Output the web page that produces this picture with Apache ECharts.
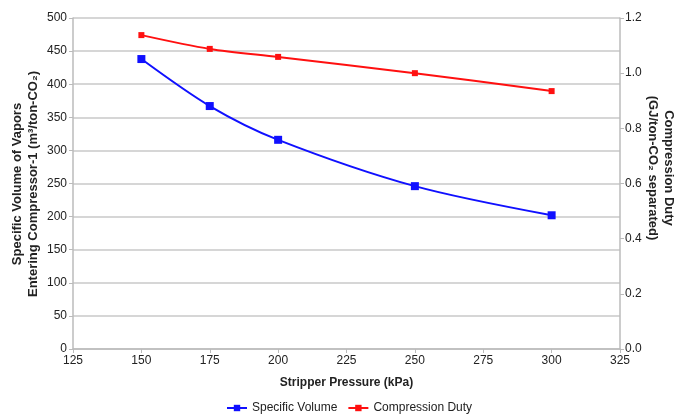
<!DOCTYPE html>
<html>
<head>
<meta charset="utf-8">
<script src="https://cdn.jsdelivr.net/npm/echarts@6/dist/echarts.min.js"></script>
<style>html,body{margin:0;padding:0;background:#fff}#c{width:675px;height:414px}</style>
</head>
<body>
<div id="c"></div>
<script>
var pressure = [150, 175, 200, 250, 300];
var specificVolume = [438, 367, 316, 246, 202];
var compressionDuty = [1.138, 1.088, 1.059, 1.0, 0.935];
var leftTicks = [0, 50, 100, 150, 200, 250, 300, 350, 400, 450, 500];
var rightTicks = [0.0, 0.2, 0.4, 0.6, 0.8, 1.0, 1.2];
var xTicks = [125, 150, 175, 200, 225, 250, 275, 300, 325];
var leftTitle = 'Specific Volume of Vapors\nEntering Compressor-1 (m³/ton-CO₂)';
var rightTitle = 'Compression Duty\n(GJ/ton-CO₂ separated)';

var font = '"Liberation Sans", Arial, sans-serif';
var chart = echarts.init(document.getElementById('c'));
chart.setOption({
  animation: false,
  textStyle: {fontFamily: font},
  grid: {left: 73, right: 55, top: 18, bottom: 65, outerBoundsMode: 'none', containLabel: false},
  legend: {
    top: 397, left: 221, itemWidth: 20, itemHeight: 8, itemGap: 10,
    textStyle: {fontSize: 12, color: '#222', fontFamily: font},
    data: ['Specific Volume', 'Compression Duty']
  },
  graphic: [{
    type: 'text', x: 25, y: 184, rotation: Math.PI / 2,
    style: {text: leftTitle, font: 'bold 13px ' + font, fill: '#222',
            textAlign: 'center', textVerticalAlign: 'middle', lineHeight: 16}
  }, {
    type: 'text', x: 661, y: 168, rotation: -Math.PI / 2,
    style: {text: rightTitle, font: 'bold 13px ' + font, fill: '#222',
            textAlign: 'center', textVerticalAlign: 'middle', lineHeight: 16}
  }],
  xAxis: {
    type: 'value', min: xTicks[0], max: xTicks[xTicks.length - 1], interval: 25,
    name: 'Stripper Pressure (kPa)', nameLocation: 'middle', nameGap: 28,
    nameTextStyle: {fontWeight: 'bold', fontSize: 12, color: '#222', fontFamily: font},
    axisLine: {lineStyle: {color: '#bbb', width: 1.5}},
    axisTick: {show: true, length: 4, lineStyle: {color: '#bbb'}},
    axisLabel: {fontSize: 12, color: '#222', margin: 6, fontFamily: font},
    splitLine: {show: false}
  },
  yAxis: [{
    type: 'value', min: leftTicks[0], max: leftTicks[leftTicks.length - 1], interval: 50,
    axisLine: {show: true, lineStyle: {color: '#bbb', width: 1.5}},
    axisTick: {show: true, length: 4, lineStyle: {color: '#bbb'}},
    axisLabel: {fontSize: 12, color: '#222', margin: 6, fontFamily: font},
    splitLine: {show: true, lineStyle: {color: '#c8c8c8', width: 1.5}}
  }, {
    type: 'value', min: rightTicks[0], max: rightTicks[rightTicks.length - 1], interval: 0.2,
    position: 'right',
    axisLine: {show: true, lineStyle: {color: '#bbb', width: 1.5}},
    axisTick: {show: true, length: 4, lineStyle: {color: '#bbb'}},
    axisLabel: {fontSize: 12, color: '#222', margin: 5, fontFamily: font, formatter: function (v) { return v.toFixed(1); }},
    splitLine: {show: false}
  }],
  series: [{
    name: 'Specific Volume', type: 'line', yAxisIndex: 0, smooth: 0.3,
    data: pressure.map(function (p, i) { return [p, specificVolume[i]]; }),
    symbol: 'rect', symbolSize: 8,
    lineStyle: {color: '#1010ff', width: 2},
    itemStyle: {color: '#1010ff'}
  }, {
    name: 'Compression Duty', type: 'line', yAxisIndex: 1, smooth: 0.3,
    data: pressure.map(function (p, i) { return [p, compressionDuty[i]]; }),
    symbol: 'rect', symbolSize: 6,
    lineStyle: {color: '#ff1010', width: 2},
    itemStyle: {color: '#ff1010'}
  }]
});
</script>
</body>
</html>
